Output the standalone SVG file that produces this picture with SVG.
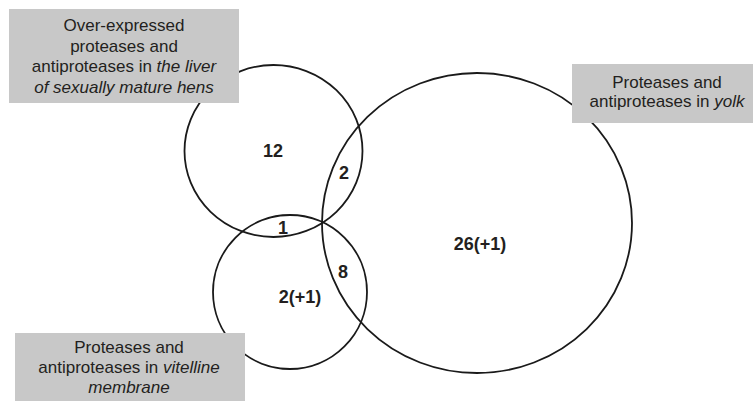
<svg xmlns="http://www.w3.org/2000/svg" width="753" height="401" viewBox="0 0 753 401">
<style>
.c{fill:none;stroke:#1a1a1a;stroke-width:1.8}
.b{fill:#c8c8c8}
.t{font-family:"Liberation Sans",Arial,sans-serif;font-size:17px;fill:#231f20;text-anchor:middle}
.n{font-family:"Liberation Sans",Arial,sans-serif;font-size:18px;font-weight:bold;fill:#231f20;text-anchor:middle}
</style>
<rect width="753" height="401" fill="#fff"/>
<g id="connectors"></g>
<g id="set-liver"><ellipse class="c" cx="273.5" cy="151" rx="89" ry="86"/></g>
<g id="set-vitelline"><ellipse class="c" cx="290" cy="292" rx="77" ry="77"/></g>
<g id="set-yolk"><ellipse class="c" cx="477" cy="223" rx="155" ry="150"/></g>
<g id="counts">
<text class="n" x="273" y="157">12</text>
<text class="n" x="344" y="179">2</text>
<text class="n" x="283" y="234">1</text>
<text class="n" x="343" y="278">8</text>
<text class="n" x="300" y="303">2(+1)</text>
<text class="n" x="480" y="250">26(+1)</text>
</g>
<g id="label-liver">
<rect class="b" x="9" y="9" width="230" height="94"/>
<text class="t" x="124" y="31">Over-expressed</text>
<text class="t" x="124" y="51.5">proteases and</text>
<text class="t" x="124" y="72">antiproteases in <tspan font-style="italic">the liver</tspan></text>
<text class="t" x="124" y="92.5"><tspan font-style="italic">of sexually mature hens</tspan></text>
</g>
<g id="label-yolk">
<rect class="b" x="572" y="64" width="181" height="59"/>
<text class="t" x="667" y="88">Proteases and</text>
<text class="t" x="667" y="107">antiproteases in <tspan font-style="italic">yolk</tspan></text>
</g>
<g id="label-vitelline">
<rect class="b" x="15" y="333" width="230" height="68"/>
<text class="t" x="129" y="353">Proteases and</text>
<text class="t" x="129" y="373">antiproteases in <tspan font-style="italic">vitelline</tspan></text>
<text class="t" x="129" y="393"><tspan font-style="italic">membrane</tspan></text>
</g>
</svg>
